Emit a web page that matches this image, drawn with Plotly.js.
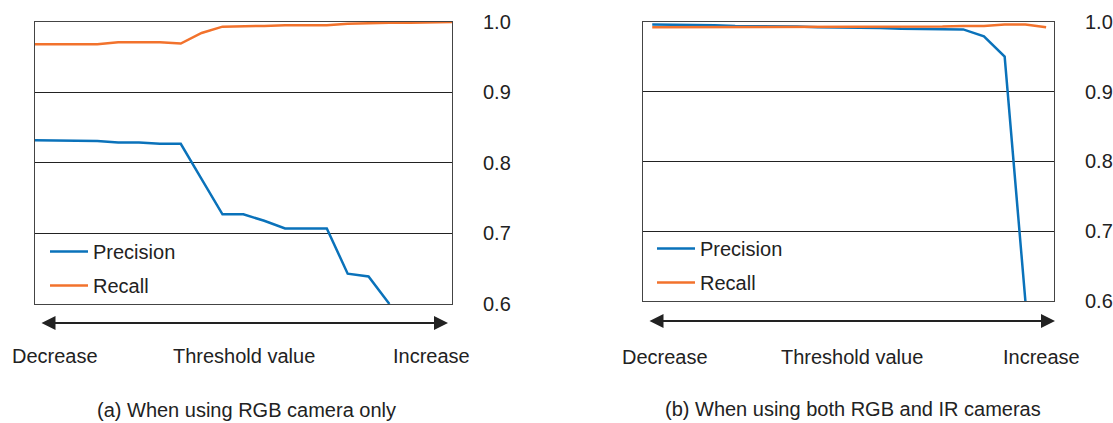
<!DOCTYPE html>
<html>
<head>
<meta charset="utf-8">
<script src="https://cdn.plot.ly/plotly-3.0.1.min.js"></script>
<style>html,body{margin:0;padding:0;background:#fff;}#chart{width:1113px;height:423px;}</style>
</head>
<body>
<div id="chart"></div>
<script>
// ---- data ----
var stepsA = [0,1,2,3,4,5,6,7,8,9,10,11,12,13,14,15,16,17,18,19,20];
var precisionA = [0.832,0.832,0.832,0.831,0.829,0.829,0.827,0.827,0.777,0.727,0.727,0.718,0.707,0.707,0.707,0.643,0.639,0.600,null,null,null];
var recallA = [0.968,0.968,0.968,0.968,0.971,0.971,0.971,0.969,0.984,0.993,0.993,0.994,0.995,0.995,0.995,0.997,0.998,0.9985,0.9985,0.9985,0.9995];

var stepsB = [0,1,2,3,4,5,6,7,8,9,10,11,12,13,14,15,16,17,18,19];
var precisionB = [0.996,0.996,0.995,0.995,0.994,0.994,0.993,0.993,0.992,0.992,0.991,0.991,0.990,0.990,0.990,0.989,0.979,0.950,0.600,null];
var recallB = [0.992,0.992,0.992,0.992,0.992,0.992,0.992,0.992,0.992,0.992,0.992,0.992,0.993,0.9925,0.993,0.994,0.994,0.996,0.996,0.992];

var yTicks = [0.6,0.7,0.8,0.9,1.0];
var yTickText = ['0.6','0.7','0.8','0.9','1.0'];
var seriesNames = ['Precision','Recall'];
var axisWords = ['Decrease','Threshold value','Increase'];
var captions = ['(a) When using RGB camera only','(b) When using both RGB and IR cameras'];

// ---- style ----
var BLUE = '#0a72ba', ORANGE = '#f2722c', INK = '#222222';
var W = 1113, H = 423;
function px(x){return x/W;}
function py(y){return 1 - y/H;}

var traces = [
  {x: stepsA, y: precisionA, name: seriesNames[0], type:'scatter', mode:'lines', xaxis:'x', yaxis:'y', line:{color:BLUE,width:2.5}, legend:'legend', legendgroup:'a1', connectgaps:false},
  {x: stepsA, y: recallA, name: seriesNames[1], type:'scatter', mode:'lines', xaxis:'x', yaxis:'y', line:{color:ORANGE,width:2.5}, legend:'legend', legendgroup:'a2'},
  {x: stepsB, y: precisionB, name: seriesNames[0], type:'scatter', mode:'lines', xaxis:'x2', yaxis:'y2', line:{color:BLUE,width:2.5}, legend:'legend2', legendgroup:'b1', connectgaps:false},
  {x: stepsB, y: recallB, name: seriesNames[1], type:'scatter', mode:'lines', xaxis:'x2', yaxis:'y2', line:{color:ORANGE,width:2.5}, legend:'legend2', legendgroup:'b2'}
];

function xAx(dom, rng, anchor){
  return {domain:dom, range:rng, anchor:anchor, showgrid:false, zeroline:false, showticklabels:false, ticks:'',
          showline:true, mirror:true, linecolor:'#444', linewidth:1, fixedrange:true};
}
function yAx(dom, anchor){
  return {domain:dom, range:[0.6,1.0], anchor:anchor, side:'right', tickvals:yTicks, ticktext:yTickText,
          showgrid:true, gridcolor:'#222', gridwidth:1, zeroline:false, showline:true, mirror:true,
          linecolor:'#444', linewidth:1, ticks:'', ticklabelstandoff:26, tickfont:{size:20,color:INK}, fixedrange:true};
}

var ann = [];
function arrow(x0, x1, y){
  ann.push({xref:'paper', yref:'paper', x:px(x1), y:py(y), ax:-(x1-x0), ay:0, text:'', showarrow:true,
            arrowhead:2, startarrowhead:2, arrowside:'end+start', arrowsize:1.4, startarrowsize:1.4, arrowwidth:2, arrowcolor:INK});
}
function label(t, xc, yc){
  ann.push({xref:'paper', yref:'paper', x:px(xc), y:py(yc), xanchor:'center', yanchor:'middle', text:t, showarrow:false,
            font:{size:20,color:INK}});
}
arrow(40, 448, 323);
arrow(648, 1055, 321);
label(axisWords[0], 55, 356); label(axisWords[1], 243.5, 356); label(axisWords[2], 431, 356);
label(axisWords[0], 665, 357); label(axisWords[1], 851.7, 357); label(axisWords[2], 1041, 357);
label(captions[0], 246.5, 410); label(captions[1], 853, 409);

var layout = {
  width:W, height:H, margin:{l:0,r:0,t:0,b:0}, paper_bgcolor:'#ffffff', plot_bgcolor:'#ffffff',
  font:{family:'Liberation Sans, Arial, Helvetica, sans-serif', size:20, color:INK},
  showlegend:true,
  xaxis: xAx([px(34.7), px(452)], [0,20], 'y'),
  yaxis: yAx([py(304), py(21.7)], 'x'),
  xaxis2: xAx([px(642.7), px(1054)], [-0.46,19.38], 'y2'),
  yaxis2: yAx([py(301), py(21.7)], 'x2'),
  legend: {x:px(45), y:py(232), xanchor:'left', yanchor:'top', bgcolor:'rgba(0,0,0,0)', borderwidth:0,
           font:{size:20,color:INK}, traceorder:'grouped', tracegroupgap:5, itemwidth:38},
  legend2: {x:px(652), y:py(229), xanchor:'left', yanchor:'top', bgcolor:'rgba(0,0,0,0)', borderwidth:0,
           font:{size:20,color:INK}, traceorder:'grouped', tracegroupgap:5, itemwidth:38},
  annotations: ann
};

Plotly.newPlot('chart', traces, layout, {staticPlot:true, displayModeBar:false});
</script>
</body>
</html>
